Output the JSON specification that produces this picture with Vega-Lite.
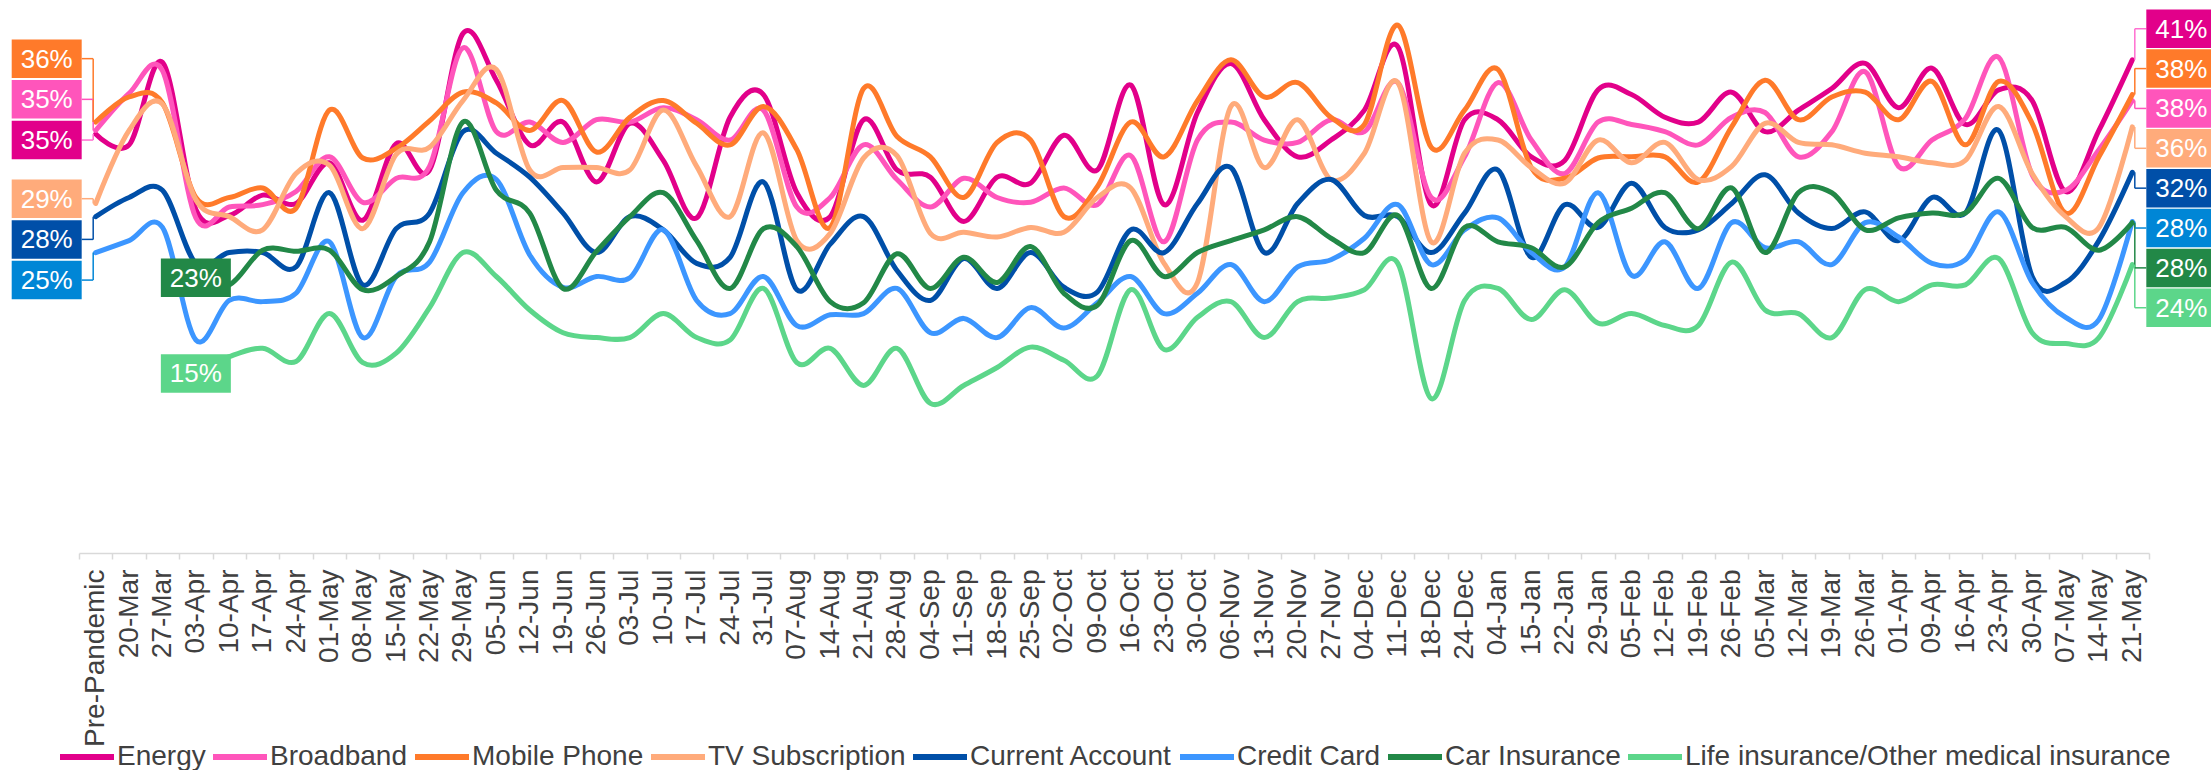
{
"$schema":"https://vega.github.io/schema/vega-lite/v6.json",
"width":2070,"height":553,
"autosize":{"type":"none"},
"padding":{"left":79,"right":62,"top":0,"bottom":217},
"background":"white",
"config":{"view":{"stroke":null},"font":"Liberation Sans"},
"data":{"values":[
{"date":"Pre-Pandemic","series":"Energy","value":0.350},{"date":"20-Mar","series":"Energy","value":0.341},{"date":"27-Mar","series":"Energy","value":0.410},{"date":"03-Apr","series":"Energy","value":0.287},{"date":"10-Apr","series":"Energy","value":0.282},{"date":"17-Apr","series":"Energy","value":0.299},{"date":"24-Apr","series":"Energy","value":0.292},{"date":"01-May","series":"Energy","value":0.326},{"date":"08-May","series":"Energy","value":0.278},{"date":"15-May","series":"Energy","value":0.342},{"date":"22-May","series":"Energy","value":0.320},{"date":"29-May","series":"Energy","value":0.434},{"date":"05-Jun","series":"Energy","value":0.395},{"date":"12-Jun","series":"Energy","value":0.341},{"date":"19-Jun","series":"Energy","value":0.360},{"date":"26-Jun","series":"Energy","value":0.310},{"date":"03-Jul","series":"Energy","value":0.359},{"date":"10-Jul","series":"Energy","value":0.328},{"date":"17-Jul","series":"Energy","value":0.280},{"date":"24-Jul","series":"Energy","value":0.364},{"date":"31-Jul","series":"Energy","value":0.383},{"date":"07-Aug","series":"Energy","value":0.301},{"date":"14-Aug","series":"Energy","value":0.281},{"date":"21-Aug","series":"Energy","value":0.362},{"date":"28-Aug","series":"Energy","value":0.320},{"date":"04-Sep","series":"Energy","value":0.314},{"date":"11-Sep","series":"Energy","value":0.277},{"date":"18-Sep","series":"Energy","value":0.314},{"date":"25-Sep","series":"Energy","value":0.309},{"date":"02-Oct","series":"Energy","value":0.349},{"date":"09-Oct","series":"Energy","value":0.320},{"date":"16-Oct","series":"Energy","value":0.391},{"date":"23-Oct","series":"Energy","value":0.291},{"date":"30-Oct","series":"Energy","value":0.368},{"date":"06-Nov","series":"Energy","value":0.409},{"date":"13-Nov","series":"Energy","value":0.362},{"date":"20-Nov","series":"Energy","value":0.331},{"date":"27-Nov","series":"Energy","value":0.345},{"date":"04-Dec","series":"Energy","value":0.370},{"date":"11-Dec","series":"Energy","value":0.423},{"date":"18-Dec","series":"Energy","value":0.291},{"date":"24-Dec","series":"Energy","value":0.362},{"date":"04-Jan","series":"Energy","value":0.362},{"date":"15-Jan","series":"Energy","value":0.331},{"date":"22-Jan","series":"Energy","value":0.328},{"date":"29-Jan","series":"Energy","value":0.387},{"date":"05-Feb","series":"Energy","value":0.383},{"date":"12-Feb","series":"Energy","value":0.364},{"date":"19-Feb","series":"Energy","value":0.360},{"date":"26-Feb","series":"Energy","value":0.385},{"date":"05-Mar","series":"Energy","value":0.352},{"date":"12-Mar","series":"Energy","value":0.370},{"date":"19-Mar","series":"Energy","value":0.388},{"date":"26-Mar","series":"Energy","value":0.409},{"date":"01-Apr","series":"Energy","value":0.372},{"date":"09-Apr","series":"Energy","value":0.405},{"date":"16-Apr","series":"Energy","value":0.358},{"date":"23-Apr","series":"Energy","value":0.387},{"date":"30-Apr","series":"Energy","value":0.378},{"date":"07-May","series":"Energy","value":0.302},{"date":"14-May","series":"Energy","value":0.353},{"date":"21-May","series":"Energy","value":0.412},
{"date":"Pre-Pandemic","series":"Broadband","value":0.353},{"date":"20-Mar","series":"Broadband","value":0.384},{"date":"27-Mar","series":"Broadband","value":0.403},{"date":"03-Apr","series":"Broadband","value":0.280},{"date":"10-Apr","series":"Broadband","value":0.289},{"date":"17-Apr","series":"Broadband","value":0.291},{"date":"24-Apr","series":"Broadband","value":0.302},{"date":"01-May","series":"Broadband","value":0.331},{"date":"08-May","series":"Broadband","value":0.293},{"date":"15-May","series":"Broadband","value":0.313},{"date":"22-May","series":"Broadband","value":0.323},{"date":"29-May","series":"Broadband","value":0.422},{"date":"05-Jun","series":"Broadband","value":0.352},{"date":"12-Jun","series":"Broadband","value":0.360},{"date":"19-Jun","series":"Broadband","value":0.343},{"date":"26-Jun","series":"Broadband","value":0.362},{"date":"03-Jul","series":"Broadband","value":0.360},{"date":"10-Jul","series":"Broadband","value":0.372},{"date":"17-Jul","series":"Broadband","value":0.362},{"date":"24-Jul","series":"Broadband","value":0.345},{"date":"31-Jul","series":"Broadband","value":0.370},{"date":"07-Aug","series":"Broadband","value":0.289},{"date":"14-Aug","series":"Broadband","value":0.297},{"date":"21-Aug","series":"Broadband","value":0.341},{"date":"28-Aug","series":"Broadband","value":0.312},{"date":"04-Sep","series":"Broadband","value":0.289},{"date":"11-Sep","series":"Broadband","value":0.313},{"date":"18-Sep","series":"Broadband","value":0.297},{"date":"25-Sep","series":"Broadband","value":0.293},{"date":"02-Oct","series":"Broadband","value":0.305},{"date":"09-Oct","series":"Broadband","value":0.291},{"date":"16-Oct","series":"Broadband","value":0.332},{"date":"23-Oct","series":"Broadband","value":0.260},{"date":"30-Oct","series":"Broadband","value":0.345},{"date":"06-Nov","series":"Broadband","value":0.360},{"date":"13-Nov","series":"Broadband","value":0.345},{"date":"20-Nov","series":"Broadband","value":0.343},{"date":"27-Nov","series":"Broadband","value":0.362},{"date":"04-Dec","series":"Broadband","value":0.352},{"date":"11-Dec","series":"Broadband","value":0.393},{"date":"18-Dec","series":"Broadband","value":0.297},{"date":"24-Dec","series":"Broadband","value":0.331},{"date":"04-Jan","series":"Broadband","value":0.393},{"date":"15-Jan","series":"Broadband","value":0.345},{"date":"22-Jan","series":"Broadband","value":0.317},{"date":"29-Jan","series":"Broadband","value":0.360},{"date":"05-Feb","series":"Broadband","value":0.358},{"date":"12-Feb","series":"Broadband","value":0.352},{"date":"19-Feb","series":"Broadband","value":0.341},{"date":"26-Feb","series":"Broadband","value":0.364},{"date":"05-Mar","series":"Broadband","value":0.368},{"date":"12-Mar","series":"Broadband","value":0.331},{"date":"19-Mar","series":"Broadband","value":0.352},{"date":"26-Mar","series":"Broadband","value":0.402},{"date":"01-Apr","series":"Broadband","value":0.323},{"date":"09-Apr","series":"Broadband","value":0.345},{"date":"16-Apr","series":"Broadband","value":0.363},{"date":"23-Apr","series":"Broadband","value":0.414},{"date":"30-Apr","series":"Broadband","value":0.316},{"date":"07-May","series":"Broadband","value":0.303},{"date":"14-May","series":"Broadband","value":0.337},{"date":"21-May","series":"Broadband","value":0.378},
{"date":"Pre-Pandemic","series":"Mobile Phone","value":0.360},{"date":"20-Mar","series":"Mobile Phone","value":0.381},{"date":"27-Mar","series":"Mobile Phone","value":0.376},{"date":"03-Apr","series":"Mobile Phone","value":0.297},{"date":"10-Apr","series":"Mobile Phone","value":0.297},{"date":"17-Apr","series":"Mobile Phone","value":0.305},{"date":"24-Apr","series":"Mobile Phone","value":0.288},{"date":"01-May","series":"Mobile Phone","value":0.370},{"date":"08-May","series":"Mobile Phone","value":0.330},{"date":"15-May","series":"Mobile Phone","value":0.338},{"date":"22-May","series":"Mobile Phone","value":0.361},{"date":"29-May","series":"Mobile Phone","value":0.385},{"date":"05-Jun","series":"Mobile Phone","value":0.376},{"date":"12-Jun","series":"Mobile Phone","value":0.353},{"date":"19-Jun","series":"Mobile Phone","value":0.378},{"date":"26-Jun","series":"Mobile Phone","value":0.335},{"date":"03-Jul","series":"Mobile Phone","value":0.364},{"date":"10-Jul","series":"Mobile Phone","value":0.378},{"date":"17-Jul","series":"Mobile Phone","value":0.359},{"date":"24-Jul","series":"Mobile Phone","value":0.341},{"date":"31-Jul","series":"Mobile Phone","value":0.373},{"date":"07-Aug","series":"Mobile Phone","value":0.337},{"date":"14-Aug","series":"Mobile Phone","value":0.272},{"date":"21-Aug","series":"Mobile Phone","value":0.388},{"date":"28-Aug","series":"Mobile Phone","value":0.348},{"date":"04-Sep","series":"Mobile Phone","value":0.331},{"date":"11-Sep","series":"Mobile Phone","value":0.297},{"date":"18-Sep","series":"Mobile Phone","value":0.343},{"date":"25-Sep","series":"Mobile Phone","value":0.345},{"date":"02-Oct","series":"Mobile Phone","value":0.281},{"date":"09-Oct","series":"Mobile Phone","value":0.306},{"date":"16-Oct","series":"Mobile Phone","value":0.360},{"date":"23-Oct","series":"Mobile Phone","value":0.331},{"date":"30-Oct","series":"Mobile Phone","value":0.378},{"date":"06-Nov","series":"Mobile Phone","value":0.412},{"date":"13-Nov","series":"Mobile Phone","value":0.381},{"date":"20-Nov","series":"Mobile Phone","value":0.393},{"date":"27-Nov","series":"Mobile Phone","value":0.364},{"date":"04-Dec","series":"Mobile Phone","value":0.358},{"date":"11-Dec","series":"Mobile Phone","value":0.441},{"date":"18-Dec","series":"Mobile Phone","value":0.339},{"date":"24-Dec","series":"Mobile Phone","value":0.370},{"date":"04-Jan","series":"Mobile Phone","value":0.404},{"date":"15-Jan","series":"Mobile Phone","value":0.322},{"date":"22-Jan","series":"Mobile Phone","value":0.313},{"date":"29-Jan","series":"Mobile Phone","value":0.330},{"date":"05-Feb","series":"Mobile Phone","value":0.331},{"date":"12-Feb","series":"Mobile Phone","value":0.331},{"date":"19-Feb","series":"Mobile Phone","value":0.310},{"date":"26-Feb","series":"Mobile Phone","value":0.356},{"date":"05-Mar","series":"Mobile Phone","value":0.395},{"date":"12-Mar","series":"Mobile Phone","value":0.362},{"date":"19-Mar","series":"Mobile Phone","value":0.381},{"date":"26-Mar","series":"Mobile Phone","value":0.385},{"date":"01-Apr","series":"Mobile Phone","value":0.362},{"date":"09-Apr","series":"Mobile Phone","value":0.394},{"date":"16-Apr","series":"Mobile Phone","value":0.341},{"date":"23-Apr","series":"Mobile Phone","value":0.394},{"date":"30-Apr","series":"Mobile Phone","value":0.359},{"date":"07-May","series":"Mobile Phone","value":0.284},{"date":"14-May","series":"Mobile Phone","value":0.331},{"date":"21-May","series":"Mobile Phone","value":0.383},
{"date":"Pre-Pandemic","series":"TV Subscription","value":0.292},{"date":"20-Mar","series":"TV Subscription","value":0.353},{"date":"27-Mar","series":"TV Subscription","value":0.375},{"date":"03-Apr","series":"TV Subscription","value":0.295},{"date":"10-Apr","series":"TV Subscription","value":0.281},{"date":"17-Apr","series":"TV Subscription","value":0.270},{"date":"24-Apr","series":"TV Subscription","value":0.317},{"date":"01-May","series":"TV Subscription","value":0.324},{"date":"08-May","series":"TV Subscription","value":0.271},{"date":"15-May","series":"TV Subscription","value":0.333},{"date":"22-May","series":"TV Subscription","value":0.339},{"date":"29-May","series":"TV Subscription","value":0.378},{"date":"05-Jun","series":"TV Subscription","value":0.404},{"date":"12-Jun","series":"TV Subscription","value":0.320},{"date":"19-Jun","series":"TV Subscription","value":0.322},{"date":"26-Jun","series":"TV Subscription","value":0.322},{"date":"03-Jul","series":"TV Subscription","value":0.320},{"date":"10-Jul","series":"TV Subscription","value":0.370},{"date":"17-Jul","series":"TV Subscription","value":0.323},{"date":"24-Jul","series":"TV Subscription","value":0.281},{"date":"31-Jul","series":"TV Subscription","value":0.351},{"date":"07-Aug","series":"TV Subscription","value":0.261},{"date":"14-Aug","series":"TV Subscription","value":0.267},{"date":"21-Aug","series":"TV Subscription","value":0.330},{"date":"28-Aug","series":"TV Subscription","value":0.332},{"date":"04-Sep","series":"TV Subscription","value":0.267},{"date":"11-Sep","series":"TV Subscription","value":0.268},{"date":"18-Sep","series":"TV Subscription","value":0.264},{"date":"25-Sep","series":"TV Subscription","value":0.272},{"date":"02-Oct","series":"TV Subscription","value":0.268},{"date":"09-Oct","series":"TV Subscription","value":0.297},{"date":"16-Oct","series":"TV Subscription","value":0.305},{"date":"23-Oct","series":"TV Subscription","value":0.242},{"date":"30-Oct","series":"TV Subscription","value":0.226},{"date":"06-Nov","series":"TV Subscription","value":0.373},{"date":"13-Nov","series":"TV Subscription","value":0.322},{"date":"20-Nov","series":"TV Subscription","value":0.362},{"date":"27-Nov","series":"TV Subscription","value":0.312},{"date":"04-Dec","series":"TV Subscription","value":0.334},{"date":"11-Dec","series":"TV Subscription","value":0.393},{"date":"18-Dec","series":"TV Subscription","value":0.260},{"date":"24-Dec","series":"TV Subscription","value":0.334},{"date":"04-Jan","series":"TV Subscription","value":0.345},{"date":"15-Jan","series":"TV Subscription","value":0.322},{"date":"22-Jan","series":"TV Subscription","value":0.309},{"date":"29-Jan","series":"TV Subscription","value":0.345},{"date":"05-Feb","series":"TV Subscription","value":0.326},{"date":"12-Feb","series":"TV Subscription","value":0.343},{"date":"19-Feb","series":"TV Subscription","value":0.312},{"date":"26-Feb","series":"TV Subscription","value":0.323},{"date":"05-Mar","series":"TV Subscription","value":0.359},{"date":"12-Mar","series":"TV Subscription","value":0.343},{"date":"19-Mar","series":"TV Subscription","value":0.341},{"date":"26-Mar","series":"TV Subscription","value":0.334},{"date":"01-Apr","series":"TV Subscription","value":0.331},{"date":"09-Apr","series":"TV Subscription","value":0.326},{"date":"16-Apr","series":"TV Subscription","value":0.328},{"date":"23-Apr","series":"TV Subscription","value":0.373},{"date":"30-Apr","series":"TV Subscription","value":0.317},{"date":"07-May","series":"TV Subscription","value":0.281},{"date":"14-May","series":"TV Subscription","value":0.272},{"date":"21-May","series":"TV Subscription","value":0.356},
{"date":"Pre-Pandemic","series":"Current Account","value":0.281},{"date":"20-Mar","series":"Current Account","value":0.297},{"date":"27-Mar","series":"Current Account","value":0.303},{"date":"03-Apr","series":"Current Account","value":0.242},{"date":"10-Apr","series":"Current Account","value":0.251},{"date":"17-Apr","series":"Current Account","value":0.251},{"date":"24-Apr","series":"Current Account","value":0.239},{"date":"01-May","series":"Current Account","value":0.301},{"date":"08-May","series":"Current Account","value":0.224},{"date":"15-May","series":"Current Account","value":0.271},{"date":"22-May","series":"Current Account","value":0.284},{"date":"29-May","series":"Current Account","value":0.352},{"date":"05-Jun","series":"Current Account","value":0.334},{"date":"12-Jun","series":"Current Account","value":0.314},{"date":"19-Jun","series":"Current Account","value":0.284},{"date":"26-Jun","series":"Current Account","value":0.251},{"date":"03-Jul","series":"Current Account","value":0.281},{"date":"10-Jul","series":"Current Account","value":0.270},{"date":"17-Jul","series":"Current Account","value":0.242},{"date":"24-Jul","series":"Current Account","value":0.247},{"date":"31-Jul","series":"Current Account","value":0.310},{"date":"07-Aug","series":"Current Account","value":0.220},{"date":"14-Aug","series":"Current Account","value":0.258},{"date":"21-Aug","series":"Current Account","value":0.281},{"date":"28-Aug","series":"Current Account","value":0.236},{"date":"04-Sep","series":"Current Account","value":0.211},{"date":"11-Sep","series":"Current Account","value":0.246},{"date":"18-Sep","series":"Current Account","value":0.221},{"date":"25-Sep","series":"Current Account","value":0.251},{"date":"02-Oct","series":"Current Account","value":0.222},{"date":"09-Oct","series":"Current Account","value":0.218},{"date":"16-Oct","series":"Current Account","value":0.270},{"date":"23-Oct","series":"Current Account","value":0.251},{"date":"30-Oct","series":"Current Account","value":0.292},{"date":"06-Nov","series":"Current Account","value":0.322},{"date":"13-Nov","series":"Current Account","value":0.251},{"date":"20-Nov","series":"Current Account","value":0.292},{"date":"27-Nov","series":"Current Account","value":0.312},{"date":"04-Dec","series":"Current Account","value":0.282},{"date":"11-Dec","series":"Current Account","value":0.281},{"date":"18-Dec","series":"Current Account","value":0.251},{"date":"24-Dec","series":"Current Account","value":0.284},{"date":"04-Jan","series":"Current Account","value":0.320},{"date":"15-Jan","series":"Current Account","value":0.247},{"date":"22-Jan","series":"Current Account","value":0.291},{"date":"29-Jan","series":"Current Account","value":0.272},{"date":"05-Feb","series":"Current Account","value":0.309},{"date":"12-Feb","series":"Current Account","value":0.272},{"date":"19-Feb","series":"Current Account","value":0.270},{"date":"26-Feb","series":"Current Account","value":0.292},{"date":"05-Mar","series":"Current Account","value":0.316},{"date":"12-Mar","series":"Current Account","value":0.284},{"date":"19-Mar","series":"Current Account","value":0.271},{"date":"26-Mar","series":"Current Account","value":0.285},{"date":"01-Apr","series":"Current Account","value":0.261},{"date":"09-Apr","series":"Current Account","value":0.297},{"date":"16-Apr","series":"Current Account","value":0.284},{"date":"23-Apr","series":"Current Account","value":0.353},{"date":"30-Apr","series":"Current Account","value":0.231},{"date":"07-May","series":"Current Account","value":0.226},{"date":"14-May","series":"Current Account","value":0.261},{"date":"21-May","series":"Current Account","value":0.318},
{"date":"Pre-Pandemic","series":"Credit Card","value":0.251},{"date":"20-Mar","series":"Credit Card","value":0.261},{"date":"27-Mar","series":"Credit Card","value":0.272},{"date":"03-Apr","series":"Credit Card","value":0.178},{"date":"10-Apr","series":"Credit Card","value":0.211},{"date":"17-Apr","series":"Credit Card","value":0.210},{"date":"24-Apr","series":"Credit Card","value":0.217},{"date":"01-May","series":"Credit Card","value":0.260},{"date":"08-May","series":"Credit Card","value":0.180},{"date":"15-May","series":"Credit Card","value":0.231},{"date":"22-May","series":"Credit Card","value":0.243},{"date":"29-May","series":"Credit Card","value":0.301},{"date":"05-Jun","series":"Credit Card","value":0.312},{"date":"12-Jun","series":"Credit Card","value":0.249},{"date":"19-Jun","series":"Credit Card","value":0.222},{"date":"26-Jun","series":"Credit Card","value":0.231},{"date":"03-Jul","series":"Credit Card","value":0.230},{"date":"10-Jul","series":"Credit Card","value":0.270},{"date":"17-Jul","series":"Credit Card","value":0.211},{"date":"24-Jul","series":"Credit Card","value":0.200},{"date":"31-Jul","series":"Credit Card","value":0.231},{"date":"07-Aug","series":"Credit Card","value":0.190},{"date":"14-Aug","series":"Credit Card","value":0.199},{"date":"21-Aug","series":"Credit Card","value":0.200},{"date":"28-Aug","series":"Credit Card","value":0.221},{"date":"04-Sep","series":"Credit Card","value":0.184},{"date":"11-Sep","series":"Credit Card","value":0.196},{"date":"18-Sep","series":"Credit Card","value":0.180},{"date":"25-Sep","series":"Credit Card","value":0.205},{"date":"02-Oct","series":"Credit Card","value":0.188},{"date":"09-Oct","series":"Credit Card","value":0.209},{"date":"16-Oct","series":"Credit Card","value":0.231},{"date":"23-Oct","series":"Credit Card","value":0.200},{"date":"30-Oct","series":"Credit Card","value":0.217},{"date":"06-Nov","series":"Credit Card","value":0.241},{"date":"13-Nov","series":"Credit Card","value":0.210},{"date":"20-Nov","series":"Credit Card","value":0.239},{"date":"27-Nov","series":"Credit Card","value":0.245},{"date":"04-Dec","series":"Credit Card","value":0.263},{"date":"11-Dec","series":"Credit Card","value":0.291},{"date":"18-Dec","series":"Credit Card","value":0.241},{"date":"24-Dec","series":"Credit Card","value":0.270},{"date":"04-Jan","series":"Credit Card","value":0.280},{"date":"15-Jan","series":"Credit Card","value":0.251},{"date":"22-Jan","series":"Credit Card","value":0.239},{"date":"29-Jan","series":"Credit Card","value":0.301},{"date":"05-Feb","series":"Credit Card","value":0.232},{"date":"12-Feb","series":"Credit Card","value":0.260},{"date":"19-Feb","series":"Credit Card","value":0.221},{"date":"26-Feb","series":"Credit Card","value":0.276},{"date":"05-Mar","series":"Credit Card","value":0.255},{"date":"12-Mar","series":"Credit Card","value":0.260},{"date":"19-Mar","series":"Credit Card","value":0.241},{"date":"26-Mar","series":"Credit Card","value":0.276},{"date":"01-Apr","series":"Credit Card","value":0.264},{"date":"09-Apr","series":"Credit Card","value":0.242},{"date":"16-Apr","series":"Credit Card","value":0.245},{"date":"23-Apr","series":"Credit Card","value":0.285},{"date":"30-Apr","series":"Credit Card","value":0.226},{"date":"07-May","series":"Credit Card","value":0.197},{"date":"14-May","series":"Credit Card","value":0.195},{"date":"21-May","series":"Credit Card","value":0.277},
{"date":"03-Apr","series":"Car Insurance","value":0.230},{"date":"10-Apr","series":"Car Insurance","value":0.224},{"date":"17-Apr","series":"Car Insurance","value":0.253},{"date":"24-Apr","series":"Car Insurance","value":0.252},{"date":"01-May","series":"Car Insurance","value":0.253},{"date":"08-May","series":"Car Insurance","value":0.220},{"date":"15-May","series":"Car Insurance","value":0.231},{"date":"22-May","series":"Car Insurance","value":0.260},{"date":"29-May","series":"Car Insurance","value":0.360},{"date":"05-Jun","series":"Car Insurance","value":0.303},{"date":"12-Jun","series":"Car Insurance","value":0.284},{"date":"19-Jun","series":"Car Insurance","value":0.221},{"date":"26-Jun","series":"Car Insurance","value":0.252},{"date":"03-Jul","series":"Car Insurance","value":0.281},{"date":"10-Jul","series":"Car Insurance","value":0.301},{"date":"17-Jul","series":"Car Insurance","value":0.261},{"date":"24-Jul","series":"Car Insurance","value":0.221},{"date":"31-Jul","series":"Car Insurance","value":0.271},{"date":"07-Aug","series":"Car Insurance","value":0.256},{"date":"14-Aug","series":"Car Insurance","value":0.210},{"date":"21-Aug","series":"Car Insurance","value":0.209},{"date":"28-Aug","series":"Car Insurance","value":0.250},{"date":"04-Sep","series":"Car Insurance","value":0.221},{"date":"11-Sep","series":"Car Insurance","value":0.247},{"date":"18-Sep","series":"Car Insurance","value":0.226},{"date":"25-Sep","series":"Car Insurance","value":0.256},{"date":"02-Oct","series":"Car Insurance","value":0.217},{"date":"09-Oct","series":"Car Insurance","value":0.207},{"date":"16-Oct","series":"Car Insurance","value":0.261},{"date":"23-Oct","series":"Car Insurance","value":0.231},{"date":"30-Oct","series":"Car Insurance","value":0.251},{"date":"06-Nov","series":"Car Insurance","value":0.261},{"date":"13-Nov","series":"Car Insurance","value":0.270},{"date":"20-Nov","series":"Car Insurance","value":0.281},{"date":"27-Nov","series":"Car Insurance","value":0.263},{"date":"04-Dec","series":"Car Insurance","value":0.251},{"date":"11-Dec","series":"Car Insurance","value":0.282},{"date":"18-Dec","series":"Car Insurance","value":0.221},{"date":"24-Dec","series":"Car Insurance","value":0.272},{"date":"04-Jan","series":"Car Insurance","value":0.260},{"date":"15-Jan","series":"Car Insurance","value":0.255},{"date":"22-Jan","series":"Car Insurance","value":0.239},{"date":"29-Jan","series":"Car Insurance","value":0.276},{"date":"05-Feb","series":"Car Insurance","value":0.288},{"date":"12-Feb","series":"Car Insurance","value":0.301},{"date":"19-Feb","series":"Car Insurance","value":0.271},{"date":"26-Feb","series":"Car Insurance","value":0.305},{"date":"05-Mar","series":"Car Insurance","value":0.251},{"date":"12-Mar","series":"Car Insurance","value":0.301},{"date":"19-Mar","series":"Car Insurance","value":0.301},{"date":"26-Mar","series":"Car Insurance","value":0.270},{"date":"01-Apr","series":"Car Insurance","value":0.280},{"date":"09-Apr","series":"Car Insurance","value":0.284},{"date":"16-Apr","series":"Car Insurance","value":0.284},{"date":"23-Apr","series":"Car Insurance","value":0.313},{"date":"30-Apr","series":"Car Insurance","value":0.272},{"date":"07-May","series":"Car Insurance","value":0.272},{"date":"14-May","series":"Car Insurance","value":0.253},{"date":"21-May","series":"Car Insurance","value":0.276},
{"date":"03-Apr","series":"Life insurance/Other medical insurance","value":0.150},{"date":"10-Apr","series":"Life insurance/Other medical insurance","value":0.164},{"date":"17-Apr","series":"Life insurance/Other medical insurance","value":0.171},{"date":"24-Apr","series":"Life insurance/Other medical insurance","value":0.160},{"date":"01-May","series":"Life insurance/Other medical insurance","value":0.200},{"date":"08-May","series":"Life insurance/Other medical insurance","value":0.159},{"date":"15-May","series":"Life insurance/Other medical insurance","value":0.167},{"date":"22-May","series":"Life insurance/Other medical insurance","value":0.205},{"date":"29-May","series":"Life insurance/Other medical insurance","value":0.251},{"date":"05-Jun","series":"Life insurance/Other medical insurance","value":0.231},{"date":"12-Jun","series":"Life insurance/Other medical insurance","value":0.203},{"date":"19-Jun","series":"Life insurance/Other medical insurance","value":0.184},{"date":"26-Jun","series":"Life insurance/Other medical insurance","value":0.180},{"date":"03-Jul","series":"Life insurance/Other medical insurance","value":0.180},{"date":"10-Jul","series":"Life insurance/Other medical insurance","value":0.200},{"date":"17-Jul","series":"Life insurance/Other medical insurance","value":0.180},{"date":"24-Jul","series":"Life insurance/Other medical insurance","value":0.178},{"date":"31-Jul","series":"Life insurance/Other medical insurance","value":0.221},{"date":"07-Aug","series":"Life insurance/Other medical insurance","value":0.159},{"date":"14-Aug","series":"Life insurance/Other medical insurance","value":0.171},{"date":"21-Aug","series":"Life insurance/Other medical insurance","value":0.140},{"date":"28-Aug","series":"Life insurance/Other medical insurance","value":0.171},{"date":"04-Sep","series":"Life insurance/Other medical insurance","value":0.125},{"date":"11-Sep","series":"Life insurance/Other medical insurance","value":0.140},{"date":"18-Sep","series":"Life insurance/Other medical insurance","value":0.155},{"date":"25-Sep","series":"Life insurance/Other medical insurance","value":0.172},{"date":"02-Oct","series":"Life insurance/Other medical insurance","value":0.161},{"date":"09-Oct","series":"Life insurance/Other medical insurance","value":0.148},{"date":"16-Oct","series":"Life insurance/Other medical insurance","value":0.220},{"date":"23-Oct","series":"Life insurance/Other medical insurance","value":0.170},{"date":"30-Oct","series":"Life insurance/Other medical insurance","value":0.197},{"date":"06-Nov","series":"Life insurance/Other medical insurance","value":0.210},{"date":"13-Nov","series":"Life insurance/Other medical insurance","value":0.180},{"date":"20-Nov","series":"Life insurance/Other medical insurance","value":0.210},{"date":"27-Nov","series":"Life insurance/Other medical insurance","value":0.213},{"date":"04-Dec","series":"Life insurance/Other medical insurance","value":0.220},{"date":"11-Dec","series":"Life insurance/Other medical insurance","value":0.242},{"date":"18-Dec","series":"Life insurance/Other medical insurance","value":0.129},{"date":"24-Dec","series":"Life insurance/Other medical insurance","value":0.211},{"date":"04-Jan","series":"Life insurance/Other medical insurance","value":0.221},{"date":"15-Jan","series":"Life insurance/Other medical insurance","value":0.195},{"date":"22-Jan","series":"Life insurance/Other medical insurance","value":0.220},{"date":"29-Jan","series":"Life insurance/Other medical insurance","value":0.192},{"date":"05-Feb","series":"Life insurance/Other medical insurance","value":0.200},{"date":"12-Feb","series":"Life insurance/Other medical insurance","value":0.190},{"date":"19-Feb","series":"Life insurance/Other medical insurance","value":0.190},{"date":"26-Feb","series":"Life insurance/Other medical insurance","value":0.243},{"date":"05-Mar","series":"Life insurance/Other medical insurance","value":0.203},{"date":"12-Mar","series":"Life insurance/Other medical insurance","value":0.200},{"date":"19-Mar","series":"Life insurance/Other medical insurance","value":0.180},{"date":"26-Mar","series":"Life insurance/Other medical insurance","value":0.220},{"date":"01-Apr","series":"Life insurance/Other medical insurance","value":0.210},{"date":"09-Apr","series":"Life insurance/Other medical insurance","value":0.224},{"date":"16-Apr","series":"Life insurance/Other medical insurance","value":0.224},{"date":"23-Apr","series":"Life insurance/Other medical insurance","value":0.246},{"date":"30-Apr","series":"Life insurance/Other medical insurance","value":0.184},{"date":"07-May","series":"Life insurance/Other medical insurance","value":0.175},{"date":"14-May","series":"Life insurance/Other medical insurance","value":0.180},{"date":"21-May","series":"Life insurance/Other medical insurance","value":0.241}
]},
"encoding":{
 "x":{"field":"date","type":"nominal","bandPosition":0.5,
  "scale":{"type":"band","paddingInner":0,"paddingOuter":0,"domain":["Pre-Pandemic","20-Mar","27-Mar","03-Apr","10-Apr","17-Apr","24-Apr","01-May","08-May","15-May","22-May","29-May","05-Jun","12-Jun","19-Jun","26-Jun","03-Jul","10-Jul","17-Jul","24-Jul","31-Jul","07-Aug","14-Aug","21-Aug","28-Aug","04-Sep","11-Sep","18-Sep","25-Sep","02-Oct","09-Oct","16-Oct","23-Oct","30-Oct","06-Nov","13-Nov","20-Nov","27-Nov","04-Dec","11-Dec","18-Dec","24-Dec","04-Jan","15-Jan","22-Jan","29-Jan","05-Feb","12-Feb","19-Feb","26-Feb","05-Mar","12-Mar","19-Mar","26-Mar","01-Apr","09-Apr","16-Apr","23-Apr","30-Apr","07-May","14-May","21-May"]},
  "axis":{"title":null,"labelAngle":-90,"labelFontSize":28,"labelFont":"Liberation Sans","labelColor":"#404040","domainColor":"#d9d9d9","domainWidth":1.5,"tickColor":"#d9d9d9","tickWidth":1.5,"tickSize":6,"tickBand":"extent","labelPadding":10,"labelLimit":0,"labelOverlap":false,"grid":false}}
},
"layer":[
 {"mark":{"type":"line","interpolate":"cardinal","strokeWidth":5,"strokeCap":"round","strokeJoin":"round"},
  "encoding":{
   "y":{"field":"value","type":"quantitative","scale":{"domain":[0,0.462],"nice":false,"zero":false},"axis":null},
   "color":{"field":"series","type":"nominal","sort":null,
    "scale":{"domain":["Energy","Broadband","Mobile Phone","TV Subscription","Current Account","Credit Card","Car Insurance","Life insurance/Other medical insurance"],"range":["#E2008A","#FF55BB","#FF7A2A","#FFAB7B","#004FA8","#3C96FF","#228847","#5CD68A"]},
    "legend":{"orient":"none","direction":"horizontal","legendX":-22,"legendY":727,"title":null,"symbolType":"stroke","symbolSize":2916,"symbolStrokeWidth":6,"labelFontSize":28,"labelFont":"Liberation Sans","labelColor":"#404040","labelOffset":0,"columnPadding":-5,"labelLimit":0}}}},
 {"transform":[{"filter":"datum.date === 'Pre-Pandemic'"},{"window":[{"op":"row_number","as":"rank"}],"sort":[{"field":"value","order":"descending"}]},{"calculate":"0.413 - 0.034*(datum.rank-1) - (datum.rank >= 4 ? 0.015 : 0)","as":"pos"}],
  "layer":[
   {"mark":{"type":"rule","xOffset":-2.5,"strokeWidth":1.5},
    "encoding":{"y":{"field":"value","type":"quantitative","scale":{"domain":[0,0.462],"nice":false,"zero":false},"axis":null},"y2":{"field":"pos"},
     "stroke":{"field":"series","type":"nominal","scale":{"domain":["Energy","Broadband","Mobile Phone","TV Subscription","Current Account","Credit Card","Car Insurance","Life insurance/Other medical insurance"],"range":["#FF6FD0","#FF55BB","#FF7A2A","#FFAB7B","#004FA8","#0086D6","#228847","#5CD68A"]},"legend":null}}},
   {"mark":{"type":"point","shape":"M-1,0H1","size":132,"filled":false,"opacity":1,"strokeWidth":1.5,"xOffset":-8.25},
    "encoding":{"y":{"field":"pos","type":"quantitative","scale":{"domain":[0,0.462],"nice":false,"zero":false},"axis":null},
     "stroke":{"field":"series","type":"nominal","legend":null}}},
   {"mark":{"type":"point","shape":"M-1.818,-1H1.818V1H-1.818Z","size":1482,"filled":true,"opacity":1,"strokeWidth":0,"xOffset":-49},
    "encoding":{"y":{"field":"pos","type":"quantitative","scale":{"domain":[0,0.462],"nice":false,"zero":false},"axis":null},
     "fill":{"field":"series","type":"nominal","scale":{"domain":["Energy","Broadband","Mobile Phone","TV Subscription","Current Account","Credit Card","Car Insurance","Life insurance/Other medical insurance"],"range":["#E2008A","#FF55BB","#FF7A2A","#FFAB7B","#004FA8","#0086D6","#228847","#5CD68A"]},"legend":null}}},
   {"mark":{"type":"text","xOffset":-49,"fontSize":26,"font":"Liberation Sans","fill":"white","align":"center","baseline":"middle","dy":1},
    "encoding":{"y":{"field":"pos","type":"quantitative","scale":{"domain":[0,0.462],"nice":false,"zero":false},"axis":null},"text":{"field":"value","type":"quantitative","format":".0%"}}}
  ]},
 {"transform":[{"filter":"datum.date === '21-May'"},{"window":[{"op":"row_number","as":"rank"}],"sort":[{"field":"value","order":"descending"}]},{"calculate":"0.438 - 0.0333*(datum.rank-1)","as":"pos"}],
  "layer":[
   {"mark":{"type":"rule","xOffset":2.5,"strokeWidth":1.5},
    "encoding":{"y":{"field":"value","type":"quantitative","scale":{"domain":[0,0.462],"nice":false,"zero":false},"axis":null},"y2":{"field":"pos"},
     "stroke":{"field":"series","type":"nominal","legend":null}}},
   {"mark":{"type":"point","shape":"M-1,0H1","size":132,"filled":false,"opacity":1,"strokeWidth":1.5,"xOffset":8.25},
    "encoding":{"y":{"field":"pos","type":"quantitative","scale":{"domain":[0,0.462],"nice":false,"zero":false},"axis":null},
     "stroke":{"field":"series","type":"nominal","legend":null}}},
   {"mark":{"type":"point","shape":"M-1.818,-1H1.818V1H-1.818Z","size":1482,"filled":true,"opacity":1,"strokeWidth":0,"xOffset":49},
    "encoding":{"y":{"field":"pos","type":"quantitative","scale":{"domain":[0,0.462],"nice":false,"zero":false},"axis":null},
     "fill":{"field":"series","type":"nominal","legend":null}}},
   {"mark":{"type":"text","xOffset":49,"fontSize":26,"font":"Liberation Sans","fill":"white","align":"center","baseline":"middle","dy":1},
    "encoding":{"y":{"field":"pos","type":"quantitative","scale":{"domain":[0,0.462],"nice":false,"zero":false},"axis":null},"text":{"field":"value","type":"quantitative","format":".0%"}}}
  ]},
 {"transform":[{"filter":"datum.date === '03-Apr' && (datum.series === 'Car Insurance' || datum.series === 'Life insurance/Other medical insurance')"}],
  "layer":[
   {"mark":{"type":"point","shape":"M-1.818,-1H1.818V1H-1.818Z","size":1482,"filled":true,"opacity":1,"strokeWidth":0},
    "encoding":{"y":{"field":"value","type":"quantitative","scale":{"domain":[0,0.462],"nice":false,"zero":false},"axis":null},
     "fill":{"field":"series","type":"nominal","legend":null}}},
   {"mark":{"type":"text","fontSize":26,"font":"Liberation Sans","fill":"white","align":"center","baseline":"middle","dy":1},
    "encoding":{"y":{"field":"value","type":"quantitative","scale":{"domain":[0,0.462],"nice":false,"zero":false},"axis":null},"text":{"field":"value","type":"quantitative","format":".0%"}}}
  ]}
]
}
